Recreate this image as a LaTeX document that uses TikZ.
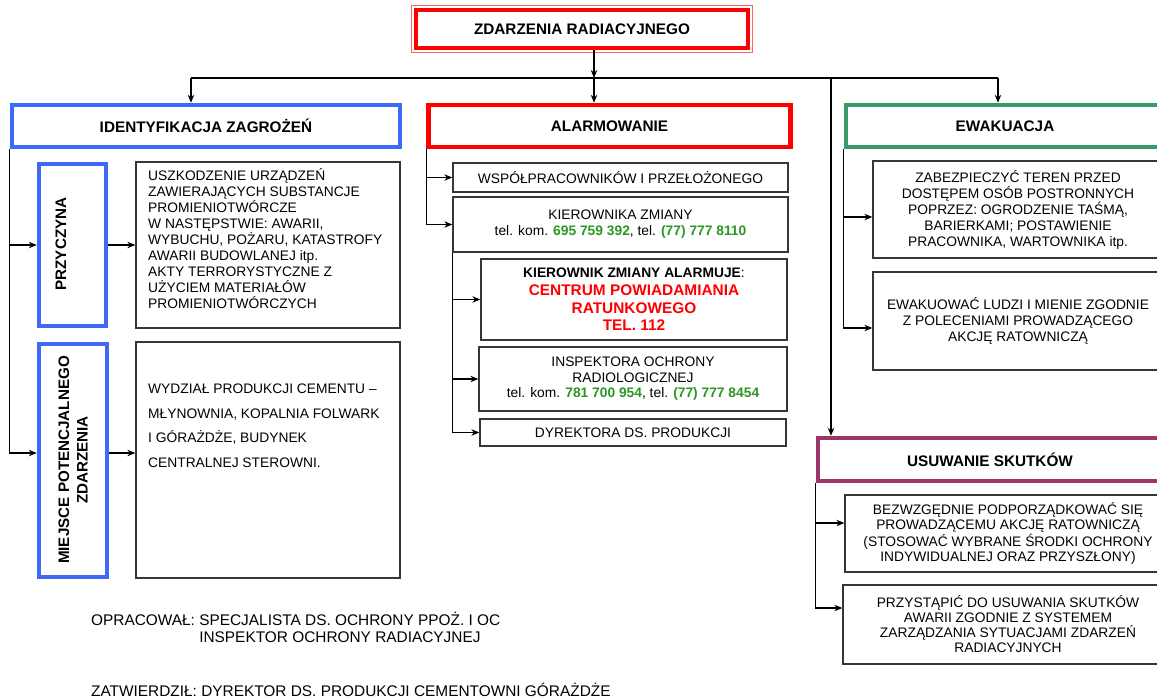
\documentclass[tikz,border=0pt]{standalone}
\usepackage{fontspec}
\setmainfont{Liberation Sans}
\usetikzlibrary{arrows.meta}

\definecolor{idblue}{RGB}{62,106,245}
\definecolor{alred}{RGB}{255,0,0}
\definecolor{evgreen}{RGB}{56,152,102}
\definecolor{uspurple}{RGB}{158,52,104}
\definecolor{telgreen}{RGB}{44,150,36}
\definecolor{boxgray}{RGB}{55,55,55}

\newcommand{\telnum}[1]{\textbf{\color{telgreen}#1}}

\begin{document}
\begin{tikzpicture}[x=1pt, y=-1pt,
  head/.style={draw=#1, line width=4.5pt, fill=white, font=\bfseries\fontsize{15.3}{18}\selectfont},
  sidetxt/.style={rotate=90, align=center, font=\bfseries\fontsize{15.2}{18.5}\selectfont},
  sub/.style={draw=boxgray, line width=1.3pt, align=center, inner sep=2pt, font=\fontsize{13.8}{16}\selectfont},
  arr/.style={-{Stealth[length=8pt,width=6.5pt]}, line width=1.1pt},
  lin/.style={line width=1.1pt}]
\useasboundingbox (0,0) rectangle (1157,699);
\node[head=alred, minimum width=332pt, minimum height=38pt] (top) at (582,29) {ZDARZENIA RADIACYJNEGO};
\draw[alred!60, line width=1pt] ([shift={(-2.5pt,2.5pt)}]top.north west) rectangle ([shift={(2.5pt,-2.5pt)}]top.south east);
\node[head=idblue, minimum width=388pt, minimum height=42pt] (ident) at (206,126) {IDENTYFIKACJA ZAGROŻEŃ};
\node[head=alred, minimum width=362pt, minimum height=42pt] (alarm) at (609.5,126) {ALARMOWANIE};
\node[head=evgreen, minimum width=318pt, minimum height=42pt] (ewak) at (1005,126) {EWAKUACJA};
\node[head=uspurple, minimum width=344pt, minimum height=43pt] (usuw) at (990,459.5) {USUWANIE SKUTKÓW};
\coordinate (jL) at (191,78);
\coordinate (jA) at (594,78);
\coordinate (jU) at (831,78);
\coordinate (jR) at (998,78);
\draw[lin] (jL) -- (jR);
\draw[arr] (top.south -| jA) -- (jA);
\draw[arr] (jA) -- (jA |- alarm.north);
\draw[arr] (jL) -- (jL |- ident.north);
\draw[arr] (jR) -- (jR |- ewak.north);
\draw[arr] (jU) -- (jU |- usuw.north);
\node[head=idblue, minimum width=67pt, minimum height=162pt] (przy) at (72.5,245) {};
\node[sidetxt] (przyT) at (61,244) {PRZYCZYNA};
\node[head=idblue, minimum width=68pt, minimum height=233pt] (miej) at (73,460.5) {};
\node[sidetxt] (miejT) at (73,460) {MIEJSCE POTENCJALNEGO\\ZDARZENIA};
\node[sub, minimum width=264pt, minimum height=166pt] (t1) at (268,245) {};
\node[anchor=west, align=left, inner sep=2pt, font=\fontsize{13.8}{16}\selectfont] (t1T) at (146,239) {USZKODZENIE URZĄDZEŃ\\ZAWIERAJĄCYCH SUBSTANCJE\\PROMIENIOTWÓRCZE\\W NASTĘPSTWIE: AWARII,\\WYBUCHU, POŻARU, KATASTROFY\\AWARII BUDOWLANEJ itp.\\AKTY TERRORYSTYCZNE Z\\UŻYCIEM MATERIAŁÓW\\PROMIENIOTWÓRCZYCH};
\node[sub, minimum width=264pt, minimum height=236pt] (t2) at (268,460) {};
\node[anchor=west, align=left, inner sep=2pt, font=\fontsize{13.8}{24.5}\selectfont] (t2T) at (146,425.5) {WYDZIAŁ PRODUKCJI CEMENTU --\\MŁYNOWNIA, KOPALNIA FOLWARK\\I GÓRAŻDŻE, BUDYNEK\\CENTRALNEJ STEROWNI.};
\draw[arr] (ident.south west) |- (przy.west);
\draw[arr] (ident.south west) |- ([yshift=7.5pt]miej.west);
\draw[arr] (przy.east) -- (t1.west);
\draw[arr] ([yshift=7.5pt]miej.east) -- ([yshift=7.5pt]miej.east -| t2.west);
\node[sub, minimum width=335pt, minimum height=29pt] (wsp) at (620.5,177.5) {WSPÓŁPRACOWNIKÓW I PRZEŁOŻONEGO};
\node[sub, minimum width=335pt, minimum height=55pt] (kier) at (620.5,224.5) {KIEROWNIKA ZMIANY\\tel. kom. \telnum{695 759 392}, tel. \telnum{(77) 777 8110}};
\node[sub, minimum width=306pt, minimum height=81pt, font=\fontsize{15.4}{17.7}\selectfont] (alrm) at (634,299.5) {{\fontsize{13.8}{17.7}\selectfont\textbf{KIEROWNIK ZMIANY ALARMUJE}:}\\\textcolor{alred}{\textbf{CENTRUM POWIADAMIANIA}}\\\textcolor{alred}{\textbf{RATUNKOWEGO}}\\\textcolor{alred}{\textbf{TEL. 112}}};
\node[sub, minimum width=308pt, minimum height=64pt, font=\fontsize{13.8}{15.5}\selectfont] (insp) at (633,379) {INSPEKTORA OCHRONY\\RADIOLOGICZNEJ\\tel. kom. \telnum{781 700 954}, tel. \telnum{(77) 777 8454}};
\node[sub, minimum width=306pt, minimum height=27pt] (dyr) at (633,432.5) {DYREKTORA DS. PRODUKCJI};
\draw[arr] (alarm.south west) |- (wsp.west);
\draw[arr] (alarm.south west) |- (kier.west);
\draw[arr] (kier.south west) |- (alrm.west);
\draw[arr] (kier.south west) |- (insp.west);
\draw[arr] (kier.south west) |- (dyr.west);
\node[sub, minimum width=290pt, minimum height=97pt] (ew1) at (1018,209.5) {ZABEZPIECZYĆ TEREN PRZED\\DOSTĘPEM OSÓB POSTRONNYCH\\POPRZEZ: OGRODZENIE TAŚMĄ,\\BARIERKAMI; POSTAWIENIE\\PRACOWNIKA, WARTOWNIKA itp.};
\node[sub, minimum width=290pt, minimum height=98pt] (ew2) at (1018,321) {EWAKUOWAĆ LUDZI I MIENIE ZGODNIE\\Z POLECENIAMI PROWADZĄCEGO\\AKCJĘ RATOWNICZĄ};
\node[sub, minimum width=326pt, minimum height=77pt, font=\fontsize{13.8}{15}\selectfont] (us1) at (1008,533.5) {BEZWZGĘDNIE PODPORZĄDKOWAĆ SIĘ\\PROWADZĄCEMU AKCJĘ RATOWNICZĄ\\(STOSOWAĆ WYBRANE ŚRODKI OCHRONY\\INDYWIDUALNEJ ORAZ PRZYSZŁONY)};
\node[sub, minimum width=330pt, minimum height=79pt, font=\fontsize{13.8}{15}\selectfont] (us2) at (1008,624.5) {PRZYSTĄPIĆ DO USUWANIA SKUTKÓW\\AWARII ZGODNIE Z SYSTEMEM\\ZARZĄDZANIA SYTUACJAMI ZDARZEŃ\\RADIACYJNYCH};
\draw[arr] (ewak.south west) |- ([yshift=-7.5pt]ew1.west);
\draw[arr] (ewak.south west) |- ([yshift=-7pt]ew2.west);
\draw[arr] (usuw.south west) |- ([yshift=10.5pt]us1.west);
\draw[arr] (usuw.south west) |- ([yshift=16.5pt]us2.west);
\node[anchor=west, inner sep=0pt, font=\fontsize{15.4}{17}\selectfont] (opr) at (91,629.5) {\begin{tabular}{@{}l@{ }l@{}}OPRACOWAŁ: & SPECJALISTA DS. OCHRONY PPOŻ. I OC\\ & INSPEKTOR OCHRONY RADIACYJNEJ\end{tabular}};
\node[anchor=west, inner sep=0pt, font=\fontsize{15.4}{17}\selectfont] (zatw) at (91,690) {ZATWIERDZIŁ: DYREKTOR DS. PRODUKCJI CEMENTOWNI GÓRAŻDŻE};
\end{tikzpicture}
\end{document}
